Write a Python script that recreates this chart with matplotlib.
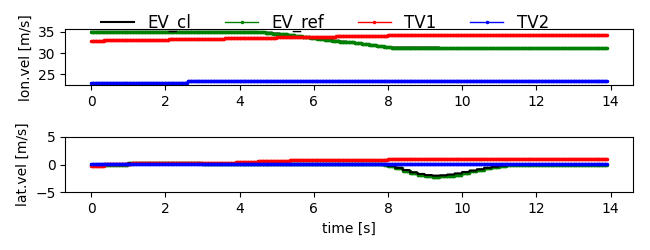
import numpy as np
import matplotlib
matplotlib.use("Agg")
import matplotlib.pyplot as plt

# sampling grid of the simulation [s]
t_start, t_end, dt = 0.0, 13.9, 0.02

# ---- longitudinal velocity [m/s]: (change time, level) pairs
ev_cl_lon_t = [0.0, 4.5, 4.7, 4.9, 5.1, 5.3, 5.5, 5.7, 5.9, 6.1, 6.3, 6.5, 6.7, 6.9,
               7.1, 7.3, 7.5, 7.7, 7.9, 8.1, 9.4]
ev_cl_lon_v = [35.0, 34.9, 34.8, 34.6, 34.4, 34.2, 34.0, 33.7, 33.5, 33.3, 33.1, 32.9,
               32.7, 32.5, 32.3, 32.1, 31.9, 31.6, 31.4, 31.3, 31.1]
ev_ref_lon_t = [0.0, 4.5, 4.7, 4.9, 5.1, 5.3, 5.5, 5.7, 5.9, 6.1, 6.3, 6.5, 6.7, 6.9,
                7.1, 7.3, 7.5, 7.7, 7.9, 8.1, 9.4]
ev_ref_lon_v = [35.0, 34.9, 34.8, 34.6, 34.4, 34.2, 34.0, 33.7, 33.5, 33.3, 33.1, 32.9,
                32.7, 32.5, 32.3, 32.1, 31.9, 31.6, 31.4, 31.3, 31.1]
tv1_lon_t = [0.0, 0.35, 2.1, 3.6, 5.0, 6.6, 8.0]
tv1_lon_v = [32.8, 33.0, 33.2, 33.5, 33.8, 34.0, 34.3]
tv2_lon_t = [0.0, 2.6]
tv2_lon_v = [23.0, 23.35]

# ---- lateral velocity [m/s]
ev_cl_lat_t = [0.0, 1.0, 3.0, 7.9, 8.0, 8.2, 8.4, 8.6, 8.8, 9.0, 9.2, 9.4, 9.6, 9.8,
               10.0, 10.2, 10.4, 10.6, 10.8, 11.0, 11.2, 11.4]
ev_cl_lat_v = [0.0, 0.25, 0.05, 0.0, -0.25, -0.6, -1.0, -1.4, -1.7, -1.9, -2.0, -1.95,
               -1.8, -1.6, -1.35, -1.1, -0.85, -0.6, -0.4, -0.2, -0.08, 0.0]
ev_ref_lat_t = [0.0, 1.0, 3.0, 7.9, 8.0, 8.2, 8.4, 8.6, 8.8, 9.0, 9.2, 9.4, 9.6, 9.8,
                10.0, 10.2, 10.4, 10.6, 10.8, 11.0, 11.2, 11.4]
ev_ref_lat_v = [0.0, 0.25, 0.05, 0.0, -0.3, -0.65, -1.1, -1.5, -1.85, -2.1, -2.2, -2.15,
                -2.0, -1.8, -1.55, -1.25, -0.95, -0.7, -0.45, -0.25, -0.1, 0.0]
tv1_lat_t = [0.0, 0.35, 1.1, 2.7, 3.9, 4.5, 5.35, 8.0]
tv1_lat_v = [-0.2, 0.1, 0.25, 0.2, 0.4, 0.55, 0.75, 0.95]
tv2_lat_t = [0.0]
tv2_lat_v = [0.1]

labels = ["EV_cl", "EV_ref", "TV1", "TV2"]

t = np.round(np.arange(t_start, t_end + dt / 2, dt), 4)


def hold(times, levels):
    """sample-and-hold lookup of the read levels on the simulation grid"""
    idx = np.searchsorted(np.asarray(times), t, side="right") - 1
    return np.asarray(levels)[idx]


fig = plt.figure(figsize=(6.5, 2.5), dpi=100)
ax1 = fig.add_axes([0.1005, 0.6588, 0.8729, 0.224])
ax2 = fig.add_axes([0.1005, 0.2308, 0.8729, 0.2224])

mk = dict(marker=".", markersize=3, linewidth=1)

# top: longitudinal
ax1.plot(t, hold(ev_cl_lon_t, ev_cl_lon_v), color="black", linewidth=1.5,
         label=labels[0], zorder=1.9)
ax1.plot(t, hold(ev_ref_lon_t, ev_ref_lon_v), color="green", label=labels[1], **mk)
ax1.plot(t, hold(tv1_lon_t, tv1_lon_v), color="red", label=labels[2], **mk)
ax1.plot(t, hold(tv2_lon_t, tv2_lon_v), color="blue", label=labels[3], **mk)
ax1.set_ylabel("lon.vel [m/s]")
ax1.set_xticks(np.arange(0, 15, 2))

# bottom: lateral
ax2.plot(t, hold(ev_cl_lat_t, ev_cl_lat_v), color="black", linewidth=1.5,
         label=labels[0], zorder=2.0)
ax2.plot(t, hold(ev_ref_lat_t, ev_ref_lat_v), color="green", label=labels[1],
         zorder=1.9, **mk)
ax2.plot(t, hold(tv1_lat_t, tv1_lat_v), color="red", label=labels[2], zorder=2.1, **mk)
ax2.plot(t, hold(tv2_lat_t, tv2_lat_v), color="blue", label=labels[3], zorder=2.2, **mk)
ax2.set_ylim(-5, 5)
ax2.set_yticks([-5, 0, 5])
ax2.set_xticks(np.arange(0, 15, 2))
ax2.set_ylabel("lat.vel [m/s]")
ax2.set_xlabel("time [s]")

handles, labs = ax1.get_legend_handles_labels()
fig.legend(handles, labs, loc="upper center", bbox_to_anchor=(0.5, 1.005),
           ncol=4, frameon=False, fontsize=12)

fig.savefig("out.png", dpi=100)
